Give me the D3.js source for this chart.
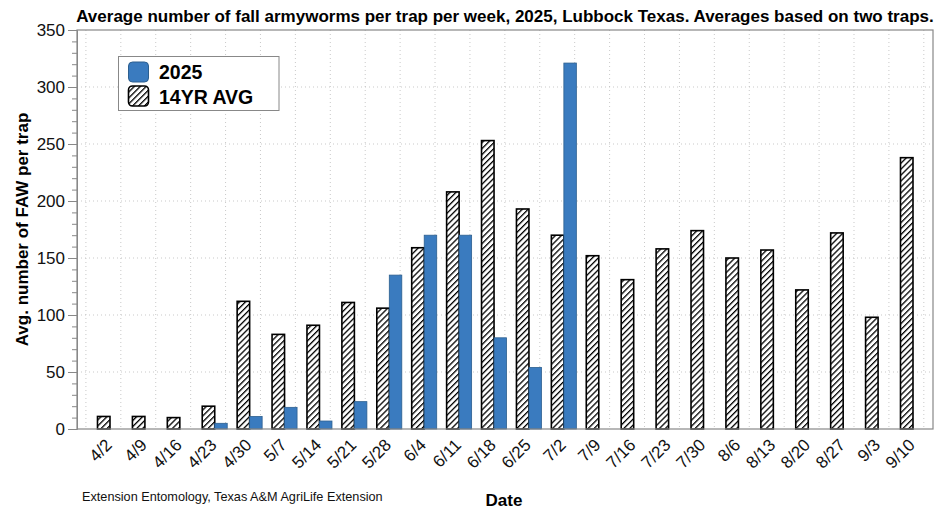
<!DOCTYPE html>
<html>
<head>
<meta charset="utf-8">
<script src="https://cdn.jsdelivr.net/npm/d3@7"></script>
<style>
body{margin:0;background:#fff;}
text{font-family:"Liberation Sans",Arial,Helvetica,sans-serif;}
</style>
</head>
<body>
<div id="chart"></div>
<script>
var dates=["4/2","4/9","4/16","4/23","4/30","5/7","5/14","5/21","5/28","6/4","6/11","6/18","6/25","7/2","7/9","7/16","7/23","7/30","8/6","8/13","8/20","8/27","9/3","9/10"];
var avg14=[11,11,10,20,112,83,91,111,106,159,208,253,193,170,152,131,158,174,150,157,122,172,98,238];
var y2025=[null,null,null,5,11,19,7,24,135,170,170,80,54,321,null,null,null,null,null,null,null,null,null,null];
var yTicks=[0,50,100,150,200,250,300,350];

var width=941,height=510;
var pLeft=77,pRight=933,pTop=30,pBottom=429;

var svg=d3.select("#chart").append("svg")
	.attr("width",width)
	.attr("height",height);

var defs=svg.append("defs");
var pat=defs.append("pattern")
	.attr("id","hatch")
	.attr("patternUnits","userSpaceOnUse")
	.attr("width",4.2)
	.attr("height",4.2)
	.attr("patternTransform","rotate(45)");
pat.append("rect").attr("width",4.2).attr("height",4.2).attr("fill","#fff");
pat.append("line").attr("x1",0).attr("y1",0).attr("x2",0).attr("y2",4.2)
	.attr("stroke","#000").attr("stroke-width",2.6);

// x as a linear index scale so the padding matches the original
var x=d3.scaleLinear().domain([-0.945,23.573]).range([pLeft,pRight]);
var y=d3.scaleLinear().domain([0,350]).range([pBottom,pTop]);
var bw=12.5;

// grid
svg.append("g").selectAll("line").data(d3.range(25))
	.enter().append("line")
	.attr("x1",function(d){return x(d-0.69);})
	.attr("x2",function(d){return x(d-0.69);})
	.attr("y1",pTop).attr("y2",pBottom)
	.attr("stroke","#bbb").attr("stroke-width",0.8)
	.attr("stroke-dasharray","1,3");
svg.append("g").selectAll("line").data(yTicks.slice(1,-1))
	.enter().append("line")
	.attr("x1",pLeft).attr("x2",pRight)
	.attr("y1",function(d){return y(d);})
	.attr("y2",function(d){return y(d);})
	.attr("stroke","#bbb").attr("stroke-width",0.8)
	.attr("stroke-dasharray","1,3");

// bars
svg.append("g").selectAll("rect").data(avg14)
	.enter().append("rect")
	.attr("x",function(d,i){return x(i)-bw;})
	.attr("y",function(d){return y(d);})
	.attr("width",bw)
	.attr("height",function(d){return y(0)-y(d);})
	.attr("fill","url(#hatch)")
	.attr("stroke","#000")
	.attr("stroke-width",1.6);

svg.append("g").selectAll("rect").data(y2025.map(function(v,i){return {v:v,i:i};}).filter(function(d){return d.v!=null;}))
	.enter().append("rect")
	.attr("x",function(d){return x(d.i);})
	.attr("y",function(d){return y(d.v);})
	.attr("width",bw)
	.attr("height",function(d){return y(0)-y(d.v);})
	.attr("fill","#3a7bbf")
	.attr("stroke","#2c5f8f")
	.attr("stroke-width",0.8);

// frame
svg.append("rect")
	.attr("x",pLeft).attr("y",pTop)
	.attr("width",pRight-pLeft).attr("height",pBottom-pTop)
	.attr("fill","none")
	.attr("stroke","#888")
	.attr("stroke-width",1.2);

// y axis
var yAxis=d3.axisLeft(y).tickValues(yTicks).tickSize(9).tickPadding(3);
var gy=svg.append("g").attr("transform","translate("+pLeft+",0)").call(yAxis);
gy.select(".domain").attr("stroke","#888");
gy.selectAll(".tick line").attr("stroke","#888");
gy.selectAll("text").style("font-size","17px").attr("fill","#111");
var gyMinor=svg.append("g").attr("transform","translate("+pLeft+",0)")
	.call(d3.axisLeft(y).ticks(35).tickSize(5).tickFormat(""));
gyMinor.select(".domain").remove();
gyMinor.selectAll(".tick line").attr("stroke","#888");

// x labels
svg.append("g").selectAll("text").data(dates)
	.enter().append("text")
	.attr("transform",function(d,i){return "translate("+(x(i)-6)+",437) rotate(-45)";})
	.attr("text-anchor","end")
	.attr("dy","0.75em")
	.style("font-size","17px")
	.attr("fill","#111")
	.text(function(d){return d;});

// title
svg.append("text")
	.attr("x",(pLeft+pRight)/2)
	.attr("y",22)
	.attr("text-anchor","middle")
	.style("font-size","17px")
	.style("font-weight","bold")
	.text("Average number of fall armyworms per trap per week, 2025, Lubbock Texas. Averages based on two traps.");

svg.append("text")
	.attr("transform","translate(28,"+((pTop+pBottom)/2)+") rotate(-90)")
	.attr("text-anchor","middle")
	.style("font-size","17px")
	.style("font-weight","bold")
	.text("Avg. number of FAW per trap");

svg.append("text")
	.attr("x",504).attr("y",506)
	.attr("text-anchor","middle")
	.style("font-size","17px")
	.style("font-weight","bold")
	.text("Date");

svg.append("text")
	.attr("x",82).attr("y",501)
	.style("font-size","12.7px")
	.attr("fill","#111")
	.text("Extension Entomology, Texas A&M AgriLife Extension");

// legend
var lg=svg.append("g");
lg.append("rect").attr("x",118.5).attr("y",56.5).attr("width",160.5).attr("height",54)
	.attr("fill","#fff").attr("stroke","#888").attr("stroke-width",1);
lg.append("rect").attr("x",128.5).attr("y",62).attr("width",20).attr("height",20).attr("rx",4)
	.attr("fill","#3a7bbf").attr("stroke","#2c5f8f").attr("stroke-width",1);
lg.append("rect").attr("x",128.5).attr("y",86).attr("width",20).attr("height",20).attr("rx",4)
	.attr("fill","url(#hatch)").attr("stroke","#000").attr("stroke-width",1.6);
lg.append("text").attr("x",159).attr("y",78.5).style("font-size","19.5px").style("font-weight","bold").text("2025");
lg.append("text").attr("x",159).attr("y",103.5).style("font-size","19.5px").style("font-weight","bold").text("14YR AVG");
</script>
</body>
</html>
